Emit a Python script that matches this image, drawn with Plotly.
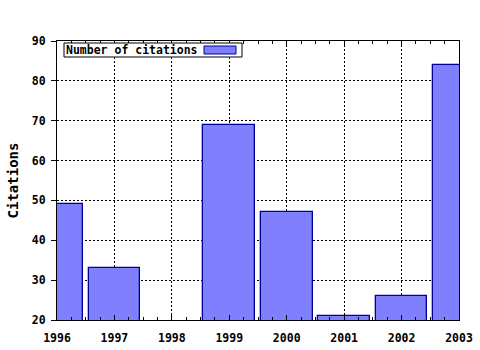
import plotly.graph_objects as go

years = [1996, 1997, 1998, 1999, 2000, 2001, 2002, 2003]
citations = [49, 33, None, 69, 47, 21, 26, 84]
series_name = "Number of citations"
y_title = "Citations"

FONT = "DejaVu Sans Mono"
FS = 11.5
fig = go.Figure()
fig.add_trace(go.Bar(
    x=years, y=citations, width=0.9, name=series_name,
    marker=dict(color="#8080ff", line=dict(color="#000099", width=1.3)),
    showlegend=False,
))

fig.update_layout(
    width=480, height=350,
    margin=dict(l=57, r=21, t=41, b=30, autoexpand=False),
    paper_bgcolor="white", plot_bgcolor="white",
    font=dict(family=FONT, size=FS, color="black"),
    xaxis=dict(
        range=[1996, 2003], tickmode="array", tickvals=years,
        ticktext=[f"<b>{y}</b>" for y in years],
        showgrid=True, gridcolor="black", griddash="2px,2px", gridwidth=1,
        showline=True, linecolor="black", linewidth=1, mirror="ticks",
        ticks="inside", ticklen=5, tickcolor="black", ticklabelstandoff=7,
        minor=dict(dtick=0.25, ticks="inside", ticklen=3, tickcolor="black", showgrid=False),
        zeroline=False, automargin=False,
    ),
    yaxis=dict(
        range=[20, 90], tickmode="array",
        tickvals=list(range(20, 91, 10)),
        ticktext=[f"<b>{v}</b>" for v in range(20, 91, 10)],
        showgrid=True, gridcolor="black", griddash="2px,2px", gridwidth=1,
        showline=True, linecolor="black", linewidth=1, mirror=True,
        ticks="outside", ticklen=5, tickcolor="black", ticklabelstandoff=3,
        title=dict(text=f"<b>{y_title}</b>", standoff=9),
        zeroline=False, automargin=False,
    ),
    bargap=0,
)

# legend box (text left, swatch right, as in the reference)
fig.add_shape(type="rect", xref="paper", yref="paper",
              x0=(64-57)/402, x1=(242-57)/402, y0=(320-57)/279, y1=(320-43)/279,
              line=dict(color="black", width=1), fillcolor="white", layer="above")
fig.add_shape(type="rect", xref="paper", yref="paper",
              x0=(204-57)/402, x1=(236-57)/402, y0=(320-54)/279, y1=(320-46)/279,
              line=dict(color="#000099", width=1), fillcolor="#8080ff", layer="above")
fig.add_annotation(xref="paper", yref="paper", x=(64-57)/402, y=(320-50)/279,
                   xanchor="left", yanchor="middle", showarrow=False,
                   text=f"<b>{series_name}</b>", font=dict(family=FONT, size=FS))

fig.write_html("out.html")
